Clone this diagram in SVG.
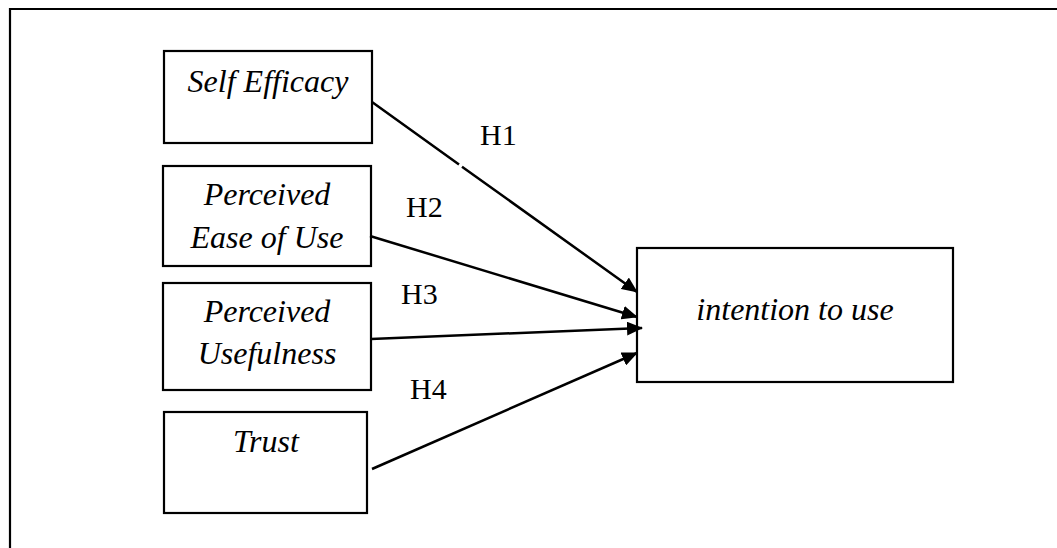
<svg xmlns="http://www.w3.org/2000/svg" width="1057" height="548" viewBox="0 0 1057 548">
  <defs>
    <style>
      .box { fill: #fff; stroke: #000; stroke-width: 2.2; }
      .lbl { font-family: 'Liberation Serif', 'DejaVu Serif', serif; font-style: italic; font-size: 32px; fill: #000; text-anchor: middle; }
      .hyp { font-family: 'Liberation Serif', 'DejaVu Serif', serif; font-size: 30px; fill: #000; }
      .conn { fill: none; stroke: #000; stroke-width: 2.5; }
    </style>
    <marker id="arrow" markerWidth="16" markerHeight="14" refX="15" refY="7" orient="auto" markerUnits="userSpaceOnUse">
      <path d="M0,0 L16,7 L0,14 Z" fill="#000"/>
    </marker>
  </defs>
  <rect x="0" y="0" width="1057" height="548" fill="#fff"/>
  <path d="M10,560 L10,9 L1060,9" fill="none" stroke="#000" stroke-width="2.2"/>

  <g id="self-efficacy">
    <rect class="box" x="164" y="51" width="208" height="92"/>
    <text class="lbl" x="268" y="92">Self Efficacy</text>
  </g>
  <g id="perceived-ease-of-use">
    <rect class="box" x="163" y="166" width="208" height="100"/>
    <text class="lbl" x="267" y="205">Perceived</text>
    <text class="lbl" x="267" y="248">Ease of Use</text>
  </g>
  <g id="perceived-usefulness">
    <rect class="box" x="163" y="283" width="208" height="107"/>
    <text class="lbl" x="267" y="322">Perceived</text>
    <text class="lbl" x="267" y="364">Usefulness</text>
  </g>
  <g id="trust">
    <rect class="box" x="164" y="412" width="203" height="101"/>
    <text class="lbl" x="266" y="452">Trust</text>
  </g>
  <g id="intention-to-use">
    <rect class="box" x="637" y="248" width="316" height="134"/>
    <text class="lbl" x="795" y="320">intention to use</text>
  </g>

  <g id="connectors">
    <path class="conn" d="M372,102 L459,164.5 M462,166.7 L637,292" marker-end="url(#arrow)"/>
    <path class="conn" d="M370,236 L637,317" marker-end="url(#arrow)"/>
    <path class="conn" d="M371,339 L642,328" marker-end="url(#arrow)"/>
    <path class="conn" d="M372,469 L637,353" marker-end="url(#arrow)"/>
    <text class="hyp" x="480" y="145">H1</text>
    <text class="hyp" x="406" y="217">H2</text>
    <text class="hyp" x="401" y="304">H3</text>
    <text class="hyp" x="410" y="399">H4</text>
  </g>
</svg>
